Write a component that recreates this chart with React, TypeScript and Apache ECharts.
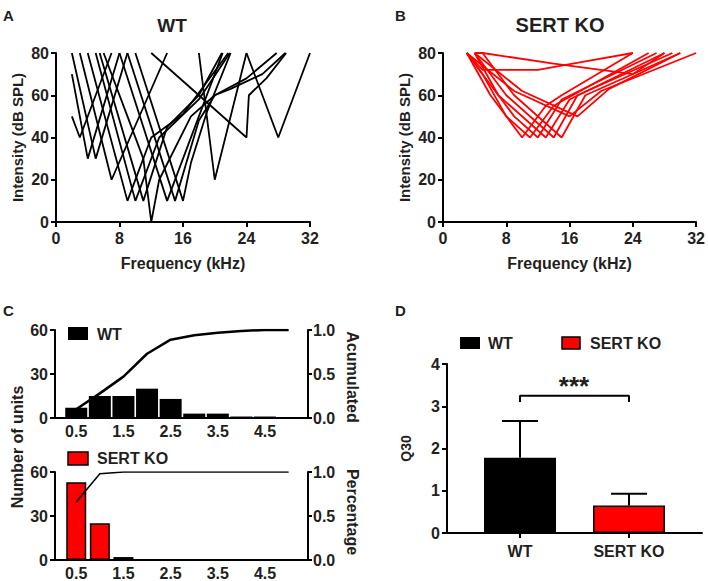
import { useEffect, useRef } from "react";
import * as echarts from "echarts";

const FONT = "'Liberation Sans', Arial, Helvetica, sans-serif";
const TXT = "#231f20";
const RED = "#ff0000";

// Panel A – WT tuning curves: [frequency kHz, intensity dB SPL]
const WT_CURVES: number[][][] = [
  [[2, 50], [3, 40], [7, 80]],
  [[2, 70], [4, 30], [8, 80]],
  [[2, 80], [5, 30], [9, 80]],
  [[3, 80], [7, 20], [14, 80]],
  [[4, 80], [9, 10], [12, 40], [16, 51], [21.7, 80]],
  [[5, 80], [10, 10], [13, 40], [18, 58], [21.9, 80]],
  [[5.5, 80], [11, 10], [14, 45], [18, 60], [20.9, 80]],
  [[6, 80], [9.5, 45], [11, 30], [12, 0], [13, 20], [17, 50], [20, 60], [24, 68], [27.8, 80]],
  [[8, 80], [14, 10], [18, 50], [21, 80]],
  [[9, 80], [15, 10], [18, 48], [20, 60], [22, 63], [26, 70], [28.9, 80]],
  [[10, 80], [16, 10], [17, 28], [19, 52], [22, 80]],
  [[12, 80], [24, 40], [24.3, 60], [26.5, 68], [29, 80]],
  [[18, 80], [20, 20], [24, 80]],
  [[24, 80], [28, 40], [32, 80]],
];

// Panel B – SERT KO tuning curves
const KO_CURVES: number[][][] = [
  [[3, 80], [6, 60], [10, 40], [13, 55], [15, 60], [24, 80]],
  [[3, 80], [5, 70], [8, 50], [11, 40], [14, 55], [26, 80]],
  [[3, 80], [6, 65], [9, 50], [12, 40], [15, 58], [27, 80]],
  [[4, 80], [7, 60], [13, 40], [16, 58], [28, 80]],
  [[4, 80], [8, 60], [14, 40], [17, 60], [29, 80]],
  [[5, 80], [9, 60], [15, 40], [18, 60], [30, 80]],
  [[3, 80], [9, 62], [16, 50], [20, 62], [32, 80]],
  [[4, 80], [10, 62], [17, 50], [21, 63], [30, 80]],
  [[4, 80], [5, 80], [14, 75], [24, 70], [28, 80]],
  [[3, 80], [5, 72], [12, 72], [18, 76], [24, 80]],
];

const FREQ_MAX = 32;
const SPL_MAX = 80;

// Panel C – Q30 distribution
const BIN_CENTERS = [0.5, 1, 1.5, 2, 2.5, 3, 3.5, 4, 4.5];
const BIN_LABELS = [0.5, 1.5, 2.5, 3.5, 4.5];
const WT_COUNTS = [7, 15, 15, 20, 13, 3, 3, 1, 1];
const KO_COUNTS = [53, 25, 2, 0, 0, 0, 0, 0, 0];
const CUM_X = [0.5, 1, 1.5, 2, 2.5, 3, 3.5, 4, 4.5, 5];
const WT_CUM = [0.1, 0.28, 0.47, 0.73, 0.89, 0.94, 0.97, 0.99, 1, 1];
const KO_CUM = [0.66, 0.98, 1, 1, 1, 1, 1, 1, 1, 1];

// Panel D – Q30 mean and error
const GROUPS = ["WT", "SERT KO"];
const Q30_MEAN = [1.78, 0.65];
const Q30_ERR_TOP = [2.65, 0.93];
const SIG_LEVEL = [3.1, 3.25];

const labelStyle = {
  color: TXT,
  fontWeight: "bold" as const,
  fontSize: 16,
  fontFamily: FONT,
};
const axisLineStyle = { lineStyle: { color: "#000", width: 2 } };
const tickStyle = { length: 5, lineStyle: { color: "#000", width: 2 } };

function nameStyle(size: number) {
  return { color: TXT, fontWeight: "bold" as const, fontSize: size, fontFamily: FONT };
}
function gText(size: number) {
  return { fill: TXT, fontWeight: "bold" as const, fontSize: size, fontFamily: FONT };
}

export default function App() {
  const ref = useRef<HTMLDivElement>(null);
  useEffect(() => {
    if (!ref.current) return;
    const chart = echarts.init(ref.current, null, { renderer: "svg" });

    const series: any[] = [];
    WT_CURVES.forEach((c) =>
      series.push({
        type: "line",
        xAxisIndex: 0,
        yAxisIndex: 0,
        data: c,
        symbol: "none",
        silent: true,
        lineStyle: { color: "#000", width: 1.8 },
      })
    );
    KO_CURVES.forEach((c) =>
      series.push({
        type: "line",
        xAxisIndex: 1,
        yAxisIndex: 1,
        data: c,
        symbol: "none",
        silent: true,
        lineStyle: { color: RED, width: 1.8 },
      })
    );
    series.push({
      type: "bar",
      name: "WT",
      xAxisIndex: 2,
      yAxisIndex: 2,
      barWidth: 22,
      data: BIN_CENTERS.map((x, i) => [x, WT_COUNTS[i]]),
      itemStyle: { color: "#000" },
    });
    series.push({
      type: "line",
      xAxisIndex: 2,
      yAxisIndex: 3,
      data: CUM_X.map((x, i) => [x, WT_CUM[i]]),
      symbol: "none",
      lineStyle: { color: "#000", width: 2.5 },
    });
    series.push({
      type: "bar",
      name: "SERT KO",
      xAxisIndex: 3,
      yAxisIndex: 4,
      barWidth: 20,
      data: BIN_CENTERS.map((x, i) => [x, KO_COUNTS[i]]),
      itemStyle: { color: RED, borderColor: "#000", borderWidth: 1.5 },
    });
    series.push({
      type: "line",
      xAxisIndex: 3,
      yAxisIndex: 5,
      data: CUM_X.map((x, i) => [x, KO_CUM[i]]),
      symbol: "none",
      lineStyle: { color: "#000", width: 1.5 },
    });
    series.push({
      type: "bar",
      xAxisIndex: 4,
      yAxisIndex: 6,
      barWidth: 72,
      data: GROUPS.map((g, i) => ({
        value: [i + 1, Q30_MEAN[i]],
        itemStyle:
          i === 0
            ? { color: "#000" }
            : { color: RED, borderColor: "#000", borderWidth: 1.5 },
      })),
    });
    series.push({
      type: "custom",
      xAxisIndex: 4,
      yAxisIndex: 6,
      data: GROUPS.map((g, i) => [i + 1, Q30_MEAN[i], Q30_ERR_TOP[i]]),
      renderItem: (params: any, api: any) => {
        const p0 = api.coord([api.value(0), api.value(1)]);
        const p1 = api.coord([api.value(0), api.value(2)]);
        return {
          type: "group",
          children: [
            {
              type: "line",
              shape: { x1: p0[0], y1: p0[1], x2: p1[0], y2: p1[1] },
              style: { stroke: "#000", lineWidth: 2 },
            },
            {
              type: "line",
              shape: { x1: p1[0] - 18, y1: p1[1], x2: p1[0] + 18, y2: p1[1] },
              style: { stroke: "#000", lineWidth: 2 },
            },
          ],
        };
      },
    });
    series.push({
      type: "line",
      xAxisIndex: 4,
      yAxisIndex: 6,
      data: [
        [1, SIG_LEVEL[0]],
        [1, SIG_LEVEL[1]],
        [2, SIG_LEVEL[1]],
        [2, SIG_LEVEL[0]],
      ],
      symbol: "none",
      lineStyle: { color: "#000", width: 2 },
    });

    const freqX = (gi: number) => ({
      type: "value",
      gridIndex: gi,
      min: 0,
      max: FREQ_MAX,
      interval: 8,
      name: "Frequency (kHz)",
      nameLocation: "middle",
      nameGap: 33,
      nameTextStyle: nameStyle(16),
      axisLine: axisLineStyle,
      axisTick: tickStyle,
      axisLabel: { ...labelStyle, margin: 8 },
      splitLine: { show: false },
    });
    const splY = (gi: number) => ({
      type: "value",
      gridIndex: gi,
      min: 0,
      max: SPL_MAX,
      interval: 20,
      name: "Intensity (dB SPL)",
      nameLocation: "middle",
      nameGap: 31,
      nameTextStyle: nameStyle(15),
      axisLine: { show: true, ...axisLineStyle },
      axisTick: { show: true, ...tickStyle },
      axisLabel: { ...labelStyle, margin: 7 },
      splitLine: { show: false },
    });
    const binX = (gi: number) => ({
      type: "value",
      gridIndex: gi,
      min: 0.05,
      max: 5.41,
      axisLine: axisLineStyle,
      axisTick: { show: false },
      axisLabel: {
        ...labelStyle,
        margin: 5,
        customValues: BIN_LABELS,
        formatter: (v: number) => v.toFixed(1),
      },
      splitLine: { show: false },
    });
    const countY = (gi: number) => ({
      type: "value",
      gridIndex: gi,
      min: 0,
      max: 60,
      interval: 30,
      axisLine: { show: true, ...axisLineStyle },
      axisTick: { show: true, ...tickStyle },
      axisLabel: { ...labelStyle, margin: 7 },
      splitLine: { show: false },
    });
    const cumY = (gi: number) => ({
      type: "value",
      gridIndex: gi,
      position: "right",
      min: 0,
      max: 1,
      interval: 0.5,
      axisLine: { show: true, ...axisLineStyle },
      axisTick: { show: true, ...tickStyle, length: 4 },
      axisLabel: { ...labelStyle, margin: 5, formatter: (v: number) => v.toFixed(1) },
      splitLine: { show: false },
    });

    const option: any = {
      animation: false,
      backgroundColor: "#fff",
      grid: [
        { left: 56, top: 53, width: 254, height: 169 },
        { left: 443, top: 53, width: 254, height: 169 },
        { left: 55, top: 330, width: 253, height: 88 },
        { left: 55, top: 472, width: 253, height: 88 },
        { left: 447, top: 364, width: 255, height: 169 },
      ],
      xAxis: [
        freqX(0),
        freqX(1),
        binX(2),
        binX(3),
        {
          type: "value",
          gridIndex: 4,
          min: 0.33,
          max: 2.67,
          axisLine: axisLineStyle,
          axisTick: { ...tickStyle, customValues: [1, 2] },
          axisLabel: {
            ...labelStyle,
            margin: 10,
            customValues: [1, 2],
            formatter: (v: number) => GROUPS[Math.round(v) - 1] ?? "",
          },
          splitLine: { show: false },
        },
      ],
      yAxis: [
        splY(0),
        splY(1),
        countY(2),
        cumY(2),
        countY(3),
        cumY(3),
        {
          type: "value",
          gridIndex: 4,
          min: 0,
          max: 4,
          interval: 1,
          name: "Q30",
          nameLocation: "middle",
          nameGap: 34,
          nameTextStyle: nameStyle(14),
          axisLine: { show: true, ...axisLineStyle },
          axisTick: { show: true, ...tickStyle },
          axisLabel: { ...labelStyle, margin: 7 },
          splitLine: { show: false },
        },
      ],
      series,
      graphic: [
        { type: "text", left: 3, top: 8, style: { text: "A", ...gText(15) } },
        { type: "text", left: 395, top: 8, style: { text: "B", ...gText(15) } },
        { type: "text", left: 3, top: 303, style: { text: "C", ...gText(15) } },
        { type: "text", left: 395, top: 303, style: { text: "D", ...gText(15) } },
        {
          type: "text",
          x: 172,
          y: 25,
          style: { text: "WT", ...gText(19), align: "center", verticalAlign: "middle" },
        },
        {
          type: "text",
          x: 560,
          y: 25,
          style: { text: "SERT KO", ...gText(20), align: "center", verticalAlign: "middle" },
        },
        // panel C legends
        { type: "rect", shape: { x: 68, y: 327, width: 20, height: 13 }, style: { fill: "#000" } },
        {
          type: "text",
          x: 97,
          y: 334,
          style: { text: "WT", ...gText(16), verticalAlign: "middle" },
        },
        {
          type: "rect",
          shape: { x: 68, y: 452, width: 20, height: 13 },
          style: { fill: RED, stroke: "#000", lineWidth: 1.5 },
        },
        {
          type: "text",
          x: 97,
          y: 458,
          style: { text: "SERT KO", ...gText(16), verticalAlign: "middle" },
        },
        {
          type: "text",
          x: 17,
          y: 447,
          rotation: Math.PI / 2,
          style: { text: "Number of units", ...gText(16), align: "center", verticalAlign: "middle" },
        },
        {
          type: "text",
          x: 352,
          y: 377,
          rotation: -Math.PI / 2,
          style: { text: "Acumulated", ...gText(16), align: "center", verticalAlign: "middle" },
        },
        {
          type: "text",
          x: 352,
          y: 512,
          rotation: -Math.PI / 2,
          style: { text: "Percentage", ...gText(16), align: "center", verticalAlign: "middle" },
        },
        // panel D legend
        { type: "rect", shape: { x: 460, y: 337, width: 20, height: 12 }, style: { fill: "#000" } },
        {
          type: "text",
          x: 488,
          y: 343,
          style: { text: "WT", ...gText(16), verticalAlign: "middle" },
        },
        {
          type: "rect",
          shape: { x: 562, y: 337, width: 18, height: 12 },
          style: { fill: RED, stroke: "#000", lineWidth: 1.5 },
        },
        {
          type: "text",
          x: 590,
          y: 343,
          style: { text: "SERT KO", ...gText(16), verticalAlign: "middle" },
        },
        {
          type: "text",
          x: 574,
          y: 386,
          style: { text: "***", ...gText(26), align: "center", verticalAlign: "middle" },
        },
      ],
    };
    chart.setOption(option);
    return () => chart.dispose();
  }, []);

  return (
    <div
      ref={ref}
      style={{ position: "absolute", left: 0, top: 0, width: 708, height: 581, background: "#fff" }}
    />
  );
}
